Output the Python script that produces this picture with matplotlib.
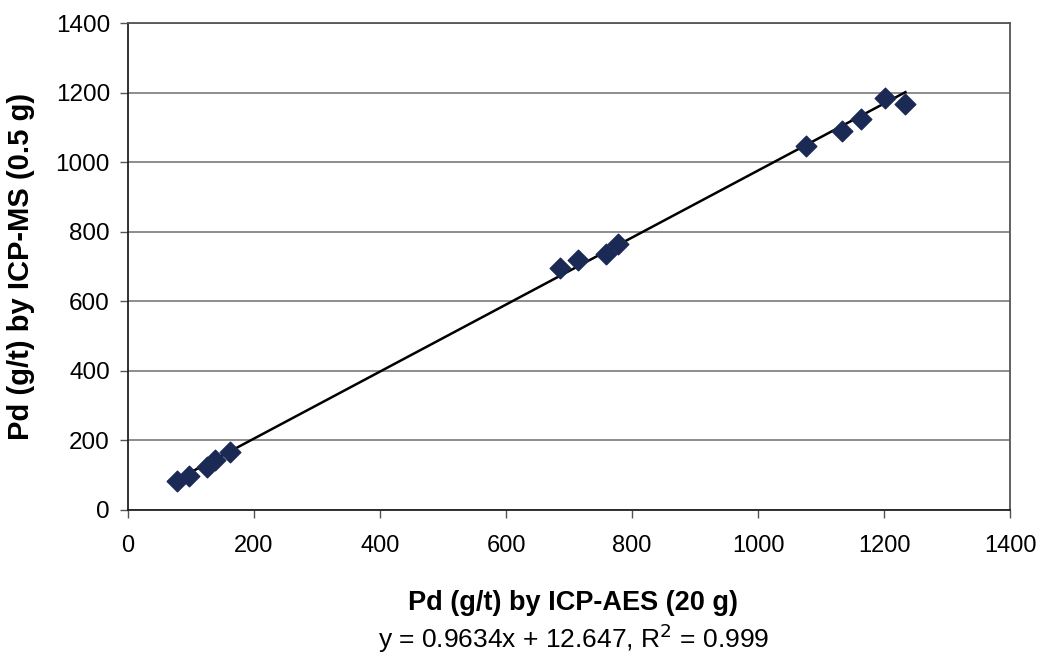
import numpy as np
import matplotlib
matplotlib.use("Agg")
import matplotlib.pyplot as plt

plt.rcParams['font.family'] = ['Liberation Sans', 'DejaVu Sans']

# Pd (g/t) values
pd_aes = [78, 96, 125, 138, 162, 685, 715, 759, 778, 1076, 1134, 1164, 1201, 1234]
pd_ms = [82, 99, 124, 145, 166, 696, 719, 735, 766, 1047, 1091, 1125, 1184, 1167]

slope = 0.9634
intercept = 12.647
ticks = [0, 200, 400, 600, 800, 1000, 1200, 1400]

fig = plt.figure(figsize=(10.46, 6.6), dpi=100)
ax = fig.add_axes([0.1224, 0.2273, 0.8432, 0.7377])

# grid
ax.set_axisbelow(True)
ax.yaxis.grid(True, color='#7a7a7a', linewidth=1.2)

# trend line over data range
xl = np.array([min(pd_aes), max(pd_aes)])
ax.plot(xl, slope * xl + intercept, color='black', linewidth=1.8, zorder=2)

ax.scatter(pd_aes, pd_ms, marker='D', s=110, color='#1b2a55', zorder=3)

ax.set_xlim(0, 1400)
ax.set_ylim(0, 1400)
ax.set_xticks(ticks)
ax.set_yticks(ticks)
ax.tick_params(axis='both', direction='out', length=6, width=1, color='#555555')
ax.tick_params(axis='y', labelsize=17.5, pad=7)
ax.tick_params(axis='x', labelsize=17, pad=12)

for s in ax.spines.values():
    s.set_color('#555555')
    s.set_linewidth(1.3)
ax.spines['left'].set_color('#222222')
ax.spines['bottom'].set_color('#222222')

fig.text(0.02, 0.597, 'Pd (g/t) by ICP-MS (0.5 g)', fontsize=21, fontweight='bold',
         rotation=90, ha='center', va='center')
fig.text(0.548, 0.086, 'Pd (g/t) by ICP-AES (20 g)', fontsize=19.5, fontweight='bold', ha='center', va='center')
fig.text(0.548, 0.033, 'y = 0.9634x + 12.647, R$^2$ = 0.999', fontsize=19, ha='center', va='center')

fig.savefig('out.png', dpi=100, facecolor='white')
